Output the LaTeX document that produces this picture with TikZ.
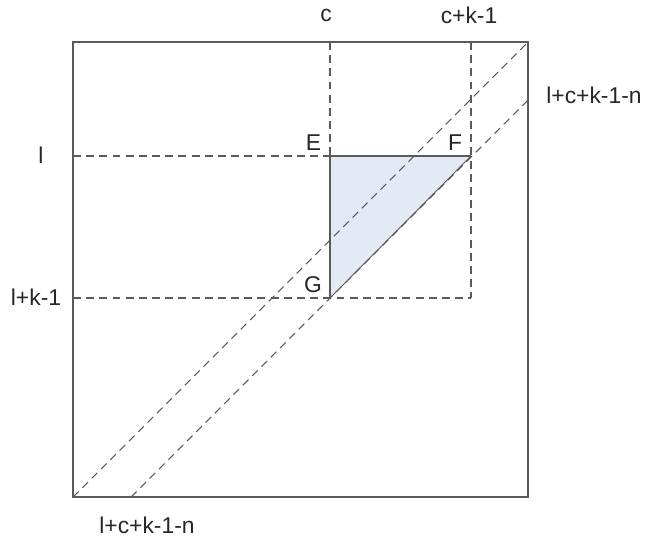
\documentclass[tikz,border=0pt]{standalone}
\usepackage{fontspec}
\setmainfont{Liberation Sans}
\definecolor{edge}{RGB}{90,90,90}
\definecolor{tri}{RGB}{227,234,246}
\begin{document}
\begin{tikzpicture}[x=0.02cm,y=-0.02cm,
  frame/.style={draw=edge,line width=0.8pt},
  guide/.style={draw=edge,line width=0.6pt,dash pattern=on 4.5pt off 3pt},
  lbl/.style={inner sep=0pt,text=black!85,font=\fontsize{13}{15}\selectfont}]
\useasboundingbox (0,0) rectangle (645,538);
% corners of the square
\coordinate (A) at (73,42);
\coordinate (B) at (528,42);
\coordinate (C) at (528,497);
\coordinate (D) at (73,497);
% grid points
\coordinate (E) at (330,156);
\coordinate (F) at (471,156);
\coordinate (G) at (330,298);
\coordinate (ct) at (330,42);
\coordinate (kt) at (471,42);
\coordinate (kb) at (471,298);
\coordinate (lL) at (73,156);
\coordinate (kL) at (73,298);
\coordinate (d0) at (131,497);
\coordinate (d1) at (528,100);
\fill[tri] (E)--(F)--(G)--cycle;
\draw[frame] (A) rectangle (C);
\draw[guide] (ct)--(E);
\draw[guide] (kt)--(kb);
\draw[guide] (lL)--(E);
\draw[guide] (kL)--(kb);
\draw[guide] (D)--(B);
\draw[guide] (d0)--(d1);
\draw[draw=edge,line width=0.7pt] (G)--(E)--(F);
\draw[draw=edge,line width=0.5pt] (F)--(G);
\node[lbl] (lc) at (326,15) {c};
\node[lbl] (lck) at (469,15) {c+k-1};
\node[lbl] (ll) at (41,155) {l};
\node[lbl] (llk) at (36,297) {l+k-1};
\node[lbl] (lE) at (313.5,143) {E};
\node[lbl] (lF) at (455,143) {F};
\node[lbl] (lG) at (313,285) {G};
\node[lbl] (lr) at (594,95) {l+c+k-1-n};
\node[lbl] (lb) at (147,525) {l+c+k-1-n};
\end{tikzpicture}
\end{document}
